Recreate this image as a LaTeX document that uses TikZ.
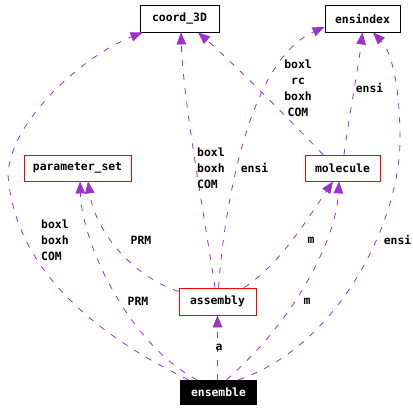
\documentclass[tikz,border=0pt]{standalone}
\usepackage{fontspec}
\newfontfamily\lblfont{DejaVu Sans Mono}
\usetikzlibrary{arrows.meta,calc}
\definecolor{edgepurple}{RGB}{154,50,205}
\definecolor{boxred}{RGB}{255,0,0}
\begin{document}
\begin{tikzpicture}[x=1pt,y=-1pt,
  every node/.style={font=\lblfont\bfseries\fontsize{11.4}{16}\selectfont, inner sep=0pt},
  cls/.style={draw=black, line width=0.9pt, minimum height=27pt},
  redcls/.style={draw=boxred, line width=0.9pt, minimum height=26pt},
  rootcls/.style={fill=black, text=white, minimum height=25pt},
  edge/.style={draw=edgepurple, line width=0.8pt, dash pattern=on 6pt off 8pt,
    -{Triangle[length=12pt,width=9.5pt]}},
  lbl/.style={align=left, anchor=west},
  clbl/.style={align=center}]
\useasboundingbox (0,0) rectangle (413,411);
% classes
\node[cls, minimum width=79pt] (coord) at (179.5,18.5) {coord\_3D};
\node[cls, minimum width=75pt] (ensindex) at (362.5,18.5) {ensindex};
\node[redcls, minimum width=107pt] (param) at (77.5,168) {parameter\_set};
\node[redcls, minimum width=75pt] (molecule) at (342.5,168) {molecule};
\node[redcls, minimum width=77pt, minimum height=27pt] (assembly) at (217.5,301.5) {assembly};
\node[rootcls, minimum width=77pt] (ensemble) at (218.5,392.5) {ensemble};
% edges
\draw[edge] ($(ensemble.north)+(-30,0)$) .. controls (100,337) and (15,272) .. (8,175)
  .. controls (10,120) and (85,55) .. ($(coord.south west)+(3,0)$);
\draw[edge] ($(ensemble.north)+(-21.5,0)$) .. controls (130,345) and (82,245) .. ($(param.south)+(2.5,0)$);
\draw[edge] (assembly.south |- ensemble.north) -- (assembly.south);
\draw[edge] ($(ensemble.north)+(8,0)$) .. controls (295,320) and (336,240) .. ($(molecule.south)+(-3.5,0)$);
\draw[edge] ($(ensemble.north)+(20,0)$) .. controls (340,345) and (400,220) .. (400,140)
  .. controls (400,80) and (390,50) .. ($(ensindex.south)+(10.5,0)$);
\draw[edge] ($(assembly.north)+(-2.5,0)$) .. controls (205,220) and (183,100) .. ($(coord.south)+(1.5,0)$);
\draw[edge] ($(assembly.north)+(1,0)$) .. controls (225,200) and (250,60) .. ($(ensindex.west)+(0,8.5)$);
\draw[edge] ($(assembly.west)+(0,-10)$) .. controls (130,275) and (95,230) .. ($(param.south)+(10.5,0)$);
\draw[edge] ($(assembly.north)+(26.5,0)$) .. controls (280,265) and (310,215) .. ($(molecule.south)+(-9.5,0)$);
\draw[edge] ($(molecule.north)+(-19.5,0)$) .. controls (290,120) and (230,60) .. ($(coord.south)+(18.5,0)$);
\draw[edge] ($(molecule.north)+(1.5,0)$) .. controls (350,110) and (358,70) .. (ensindex.south);
% labels
\node[lbl] (l1) at (41,240) {boxl\\boxh\\COM};
\node[lbl] (l2) at (197,168) {boxl\\boxh\\COM};
\node (l3) at (254.5,168) {ensi};
\node[clbl] (l4) at (298,88) {boxl\\rc\\boxh\\COM};
\node (l5) at (369.5,88) {ensi};
\node (l6) at (141,240) {PRM};
\node (l7) at (138,301) {PRM};
\node (l8) at (311,240) {m};
\node (l9) at (307,301) {m};
\node (l10) at (397.5,240) {ensi};
\node (l11) at (219,347) {a};
\end{tikzpicture}
\end{document}
